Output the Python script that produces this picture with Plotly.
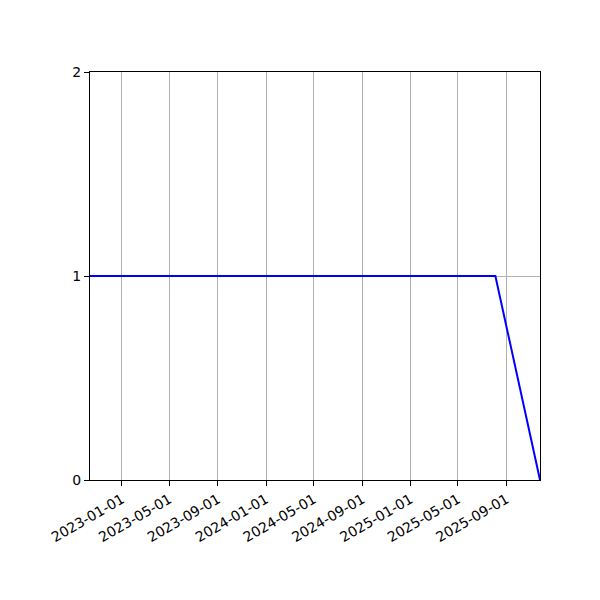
import plotly.graph_objects as go

# data
dates = ["2022-10-12", "2025-08-04", "2025-11-25"]
values = [1, 1, 0]

tick_dates = ["2023-01-01", "2023-05-01", "2023-09-01", "2024-01-01", "2024-05-01",
              "2024-09-01", "2025-01-01", "2025-05-01", "2025-09-01"]
y_ticks = [0, 1, 2]

fig = go.Figure()
fig.add_trace(go.Scatter(x=dates, y=values, mode="lines",
                         line=dict(color="#0000ff", width=2), showlegend=False))

axis_common = dict(
    showline=True, linecolor="black", linewidth=1, mirror=True,
    ticks="outside", ticklen=5, tickwidth=1, tickcolor="black",
    showgrid=True, gridcolor="#b0b0b0", gridwidth=1, zeroline=False,
    tickfont=dict(family="DejaVu Sans", size=14, color="black"),
)

fig.update_xaxes(type="date", range=[dates[0], dates[-1]],
                 tickvals=tick_dates, ticktext=tick_dates, tickangle=-30,
                 **axis_common)
fig.update_yaxes(range=[0, 2], tickvals=y_ticks, ticktext=[str(v) for v in y_ticks],
                 **axis_common)

# page body adds 8px, so shift the plot area back
fig.update_layout(
    width=600, height=600,
    margin=dict(l=82, r=68, t=64, b=128, autoexpand=False),
    plot_bgcolor="white", paper_bgcolor="white",
)

fig.write_html("out.html")
